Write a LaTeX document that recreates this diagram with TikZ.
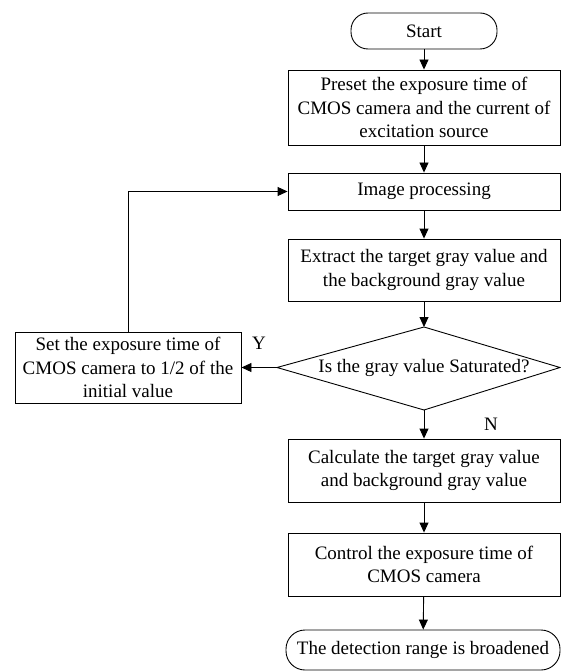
\documentclass[tikz,border=0pt]{standalone}
\usepackage{fontspec}
\setmainfont{Liberation Serif}
\usetikzlibrary{arrows.meta}
\begin{document}
\begin{tikzpicture}[x=1pt,y=-1pt,
  font=\fontsize{19}{23.5}\selectfont,
  box/.style={draw, line width=0.9pt, align=center, inner sep=0pt, minimum width=272pt},
  term/.style={draw, line width=0.9pt, align=center, inner sep=0pt, rounded corners=17pt},
  conn/.style={line width=0.9pt, -{Triangle[length=10pt,width=9pt]}},
  lbl/.style={inner sep=0pt}]
\useasboundingbox (0,0) rectangle (561,671);
\node[term, minimum width=146pt, minimum height=36pt] (start) at (424,31) {Start};
\node[box, minimum height=75pt] (preset) at (424,107.5) {Preset the exposure time of\\CMOS camera and the current of\\excitation source};
\node[box, minimum height=37pt] (img) at (424,191.5) {Image processing};
\node[box, minimum height=62pt] (extract) at (424,270) {Extract the target gray value and\\the background gray value};
\coordinate (dt) at (424,327);
\coordinate (dl) at (277,367.5);
\coordinate (dr) at (560,367.5);
\coordinate (db) at (424,410);
\draw[line width=0.9pt] (dt) -- (dr) -- (db) -- (dl) -- cycle;
\node[lbl] (dtext) at (424,368) {Is the gray value Saturated?};
\node[box, minimum width=226pt, minimum height=71pt] (left) at (128,367.5) {Set the exposure time of\\CMOS camera to 1/2 of the\\initial value};
\node[box, minimum height=63pt] (calc) at (424,470.5) {Calculate the target gray value\\and background gray value};
\node[box, minimum height=63pt] (ctrl) at (424,564.5) {Control the exposure time of\\CMOS camera};
\node[term, minimum width=274pt, minimum height=40pt, rounded corners=19pt] (end) at (423,650) {The detection range is broadened};
\node[lbl] (ylab) at (259,343) {Y};
\node[lbl] (nlab) at (491,424) {N};
\draw[conn] (start) -- (preset);
\draw[conn] (preset) -- (img);
\draw[conn] (img) -- (extract);
\draw[conn] (extract) -- (dt);
\draw[conn] (dl) -- (left.east);
\draw[conn] (left.north) |- (img.west);
\draw[conn] (db) -- (calc);
\draw[conn] (calc) -- (ctrl);
\draw[conn] (ctrl) -- (end);
\end{tikzpicture}
\end{document}
